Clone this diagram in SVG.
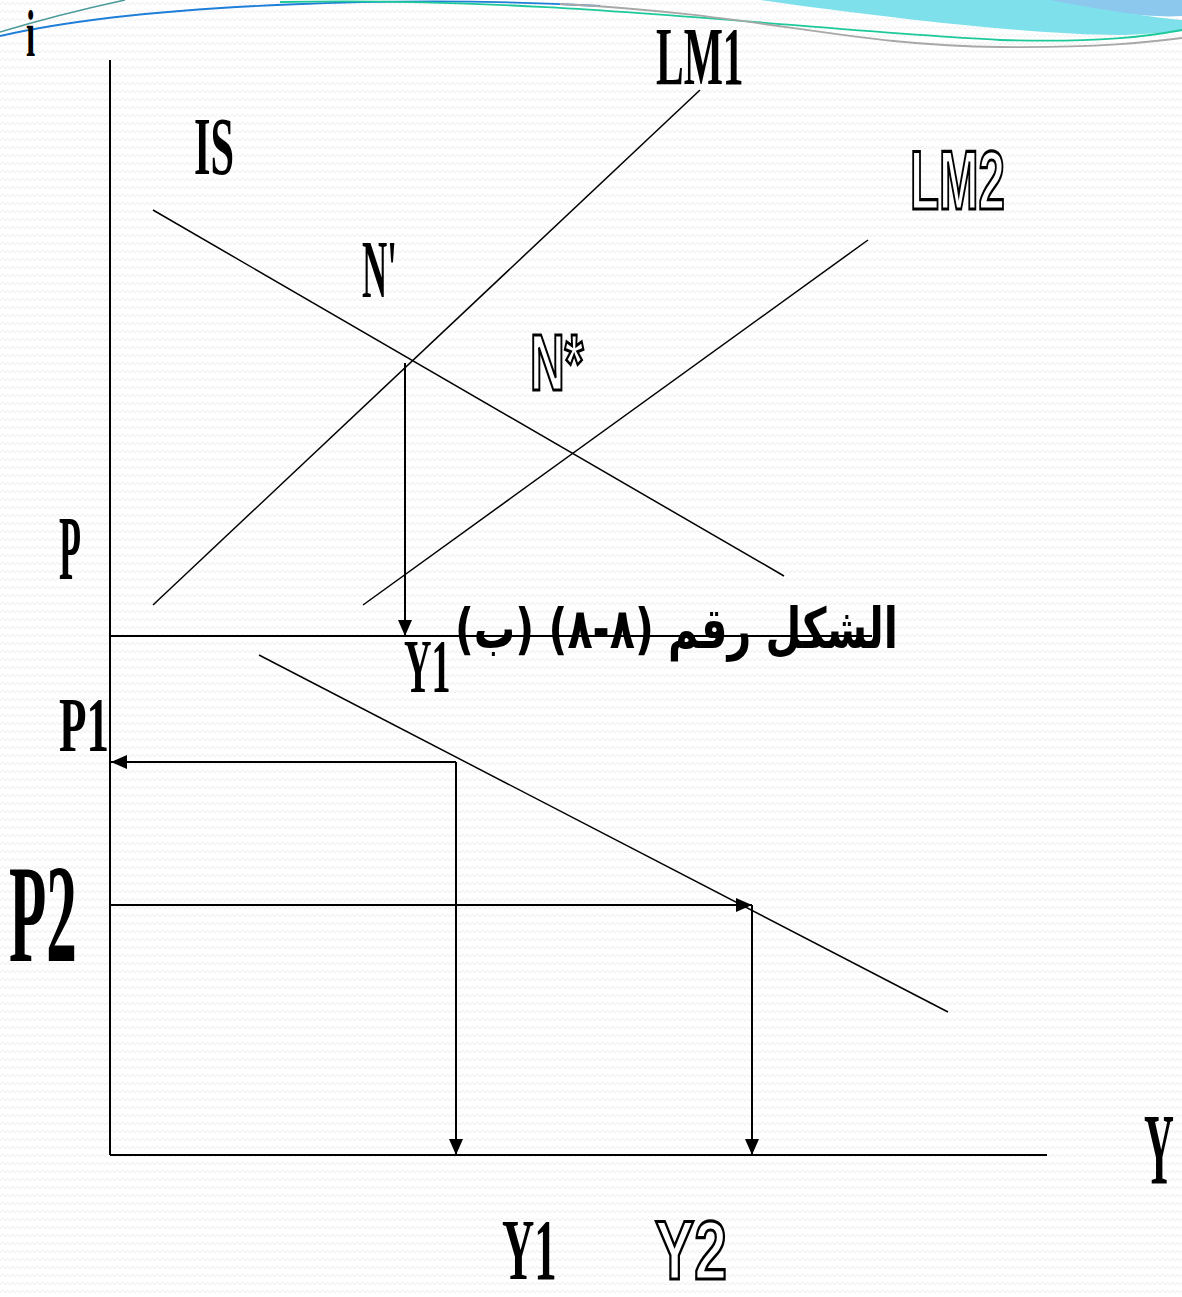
<svg xmlns="http://www.w3.org/2000/svg" width="1182" height="1297" viewBox="0 0 1182 1297">
<defs>
<pattern id="zig" width="10" height="8" patternUnits="userSpaceOnUse">
<path d="M0,5 L2.5,2 L5,5 L7.5,2 L10,5" fill="none" stroke="#ededed" stroke-width="1"/>
</pattern>
<marker id="ah" viewBox="0 0 16 14" refX="16" refY="7" markerWidth="16" markerHeight="14" markerUnits="userSpaceOnUse" orient="auto">
<path d="M0,0 L16,7 L0,14 Z" fill="#000"/>
</marker>
<style>
.ser{font-family:"Liberation Serif","Times New Roman",serif;font-weight:bold;fill:#000}
.out{font-family:"Liberation Sans",Arial,sans-serif;font-weight:bold;fill:#fff;stroke:#000;stroke-width:3.2}
.ln{stroke:#000;stroke-width:1.5;fill:none}
.ax{stroke:#000;stroke-width:2;fill:none}
.ar{stroke:#000;stroke-width:2;fill:none;marker-end:url(#ah)}
</style>
</defs>
<rect width="1182" height="1297" fill="#fff"/>
<rect width="1182" height="1297" fill="url(#zig)"/>
<g id="decoration">
<path d="M1040,0 C1100,12 1150,18 1182,16 L1182,0 Z" fill="#8cc8ee"/>
<path d="M760,0 C900,20 1050,36 1125,35 C1150,34 1170,32 1182,31 L1182,20 C1140,16 1080,6 1050,0 Z" fill="#7ee0ea"/>
<path d="M0,32 Q60,14 125,0" fill="none" stroke="#4a9a9a" stroke-width="1.5"/>
<path d="M0,36 C150,2 420,-4 600,6" fill="none" stroke="#1e7ed8" stroke-width="1.8"/>
<path d="M280,2 C550,-4 800,30 1000,40 C1100,43 1150,36 1182,30" fill="none" stroke="#1dc99a" stroke-width="1.8"/>
<path d="M560,4 C760,14 850,46 1000,47 C1100,48 1150,42 1182,38" fill="none" stroke="#a8a8a8" stroke-width="1.8"/>
</g>
<g id="connectors">
<line class="ax" x1="110" y1="60" x2="110" y2="1155"/>
<line class="ax" x1="110" y1="636" x2="872" y2="636"/>
<line class="ax" x1="110" y1="1155" x2="1047" y2="1155"/>
<line id="IS-curve" class="ln" x1="153" y1="210" x2="784" y2="576"/>
<line id="LM1-curve" class="ln" x1="153" y1="605" x2="700" y2="90"/>
<line id="LM2-curve" class="ln" x1="363" y1="605" x2="868" y2="240"/>
<line id="AD-curve" class="ln" x1="259" y1="655" x2="948" y2="1012"/>
<line class="ar" x1="405" y1="363" x2="405" y2="636"/>
<line class="ar" x1="456" y1="762" x2="111" y2="762"/>
<line class="ar" x1="456" y1="762" x2="456" y2="1155"/>
<line class="ar" x1="110" y1="905" x2="752" y2="905"/>
<line class="ar" x1="752" y1="905" x2="752" y2="1155"/>
</g>
<g id="label-i"><text class="ser" font-size="66" transform="translate(26,56) scale(0.5,1)">i</text></g>
<g id="label-LM1"><text class="ser" font-size="83" transform="translate(656,84) scale(0.5,1)">LM1</text></g>
<g id="label-IS"><text class="ser" font-size="83" transform="translate(194,174) scale(0.51,1)">IS</text></g>
<g id="label-LM2"><text class="out" font-size="84" transform="translate(910,209) scale(0.565,1)">LM2</text></g>
<g id="label-N1"><text class="ser" font-size="83" transform="translate(362,297) scale(0.42,1)">N'</text></g>
<g id="label-Nstar"><text class="out" font-size="80" transform="translate(530,390) scale(0.6,1)">N*</text></g>
<g id="label-P"><text class="ser" font-size="90" transform="translate(59,579) scale(0.4,1)">P</text></g>
<g id="label-Y1-top"><text class="ser" font-size="76" transform="translate(404,692) scale(0.5,1)">Y1</text></g>
<g id="label-title"><text font-family="'DejaVu Sans',sans-serif" font-weight="bold" font-size="56" x="898" y="648" text-anchor="end" textLength="443" lengthAdjust="spacingAndGlyphs">الشكل رقم (٨-٨) (ب)</text></g>
<g id="label-P1"><text class="ser" font-size="79" transform="translate(59,751) scale(0.57,1)">P1</text></g>
<g id="label-P2"><text class="ser" font-size="139" transform="translate(9,961) scale(0.44,1)">P2</text></g>
<g id="label-Y"><text class="ser" font-size="101" transform="translate(1144,1184) scale(0.41,1)">Y</text></g>
<g id="label-Y1-bottom"><text class="ser" font-size="86" transform="translate(502,1279) scale(0.52,1)">Y1</text></g>
<g id="label-Y2"><text class="out" font-size="84" transform="translate(655,1279) scale(0.7,1)">Y2</text></g>
</svg>
